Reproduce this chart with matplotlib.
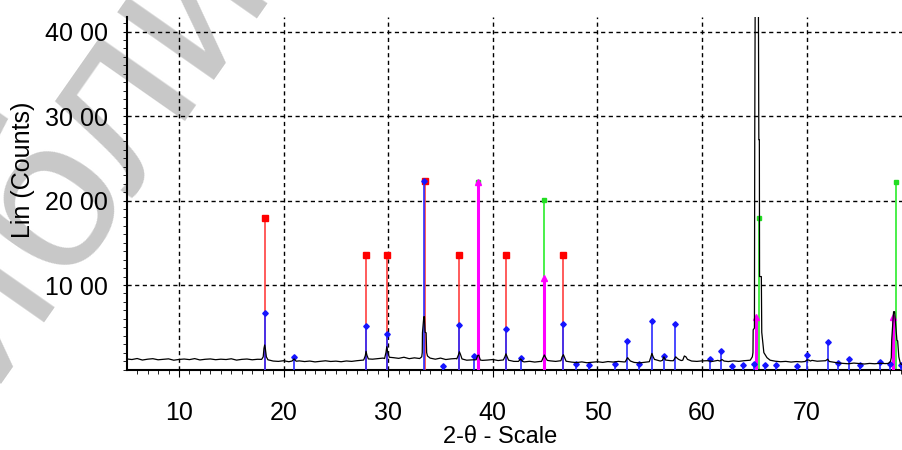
import numpy as np
import matplotlib
matplotlib.use("Agg")
import matplotlib.pyplot as plt
from matplotlib.ticker import MultipleLocator, FixedLocator

plt.rcParams['font.family'] = ['Liberation Sans', 'DejaVu Sans']

# measured scan: background counts on a 0.5 deg grid from 5.0 to 79.0
BG_START, BG_STEP = 5.0, 0.5
bg_counts = [125, 118, 130, 112, 122, 128, 115, 120, 126, 110,
             119, 124, 117, 129, 113, 121, 125, 116, 122, 118,
             127, 111, 120, 124, 115, 121, 118,
             112, 100, 96, 104, 92, 98, 102, 94, 100, 90,
             97, 103, 95, 99, 92, 101, 96, 104, 110,
             118, 122, 128, 135, 150, 140, 132, 145, 128, 138, 130,
             130, 128, 122, 135, 118, 126, 130,
             125, 110, 114, 120, 108, 112, 118, 106, 113,
             110, 96, 104, 90, 97, 88, 95,
             110, 102, 96, 104,
             98, 88, 82, 90, 80, 86, 92,
             84, 94, 88, 96, 90,
             100, 84, 78, 86, 92,
             118, 100, 112, 104, 120, 106, 130, 100, 96, 102,
             104, 96, 108, 100, 94, 102, 96, 104, 110,
             300, 300, 140, 110, 98, 92, 96, 88, 94, 90,
             112, 108, 98, 102, 118,
             88, 78, 72, 68, 76, 70, 65, 72, 68, 74, 70,
             90, 300, 60]

# measured peaks (2theta, counts)
peaks = [
    ([17.9, 18.05, 18.12, 18.19, 18.26, 18.35, 18.5], [120, 150, 250, 290, 240, 150, 115]),
    ([20.8, 21.0, 21.2], [100, 125, 98]),
    ([27.65, 27.8, 27.88, 27.96, 28.1], [112, 160, 215, 170, 125]),
    ([29.65, 29.78, 29.86, 29.94, 30.1], [130, 200, 270, 210, 145]),
    ([33.0, 33.2, 33.25, 33.27, 33.40, 33.46, 33.52, 33.62, 33.67, 33.75, 34.0],
     [130, 150, 200, 435, 625, 625, 440, 435, 200, 160, 135]),
    ([36.55, 36.7, 36.8, 36.9, 37.05], [125, 170, 210, 180, 125]),
    ([38.4, 38.55, 38.65, 38.8], [115, 165, 170, 112]),
    ([41.0, 41.15, 41.25, 41.35, 41.5], [113, 150, 185, 155, 110]),
    ([42.45, 42.65, 42.85], [96, 125, 95]),
    ([44.65, 44.8, 44.92, 45.05, 45.2], [95, 140, 172, 140, 108]),
    ([46.5, 46.62, 46.74, 46.86, 47.0], [104, 150, 175, 140, 98]),
    ([52.65, 52.78, 52.88, 53.0, 53.15], [90, 120, 140, 120, 100]),
    ([54.95, 55.08, 55.2, 55.32, 55.45], [92, 140, 190, 150, 118]),
    ([56.2, 56.35, 56.5], [108, 150, 112]),
    ([57.25, 57.38, 57.48, 57.6, 57.75], [104, 130, 150, 135, 120]),
    ([58.15, 58.3, 58.45, 58.6], [110, 160, 150, 120]),
    ([61.7, 61.9, 62.1], [100, 118, 100]),
    ([64.6, 64.8, 64.86, 64.88, 65.0, 65.03, 65.2, 65.25, 65.42, 65.47, 65.49, 65.66, 65.7, 65.9, 66.2],
     [110, 150, 200, 470, 490, 2720, 9500, 9500, 2720, 2720, 1100, 1100, 440, 200, 140]),
    ([69.85, 70.0, 70.2, 70.35], [95, 112, 112, 100]),
    ([71.8, 72.0, 72.15], [104, 122, 95]),
    ([77.8, 78.0, 78.08, 78.12, 78.3, 78.4, 78.62, 78.69, 78.8, 78.95, 79.2],
     [72, 95, 140, 350, 684, 684, 345, 340, 150, 70, 50]),
]

# reference patterns (stick positions and intensities)
red_pos = [18.19, 27.88, 29.86, 33.50, 36.80, 41.26, 46.74]
red_int = [1795, 1355, 1355, 2230, 1355, 1355, 1355]

blue_pos = [18.19, 21.02, 27.88, 29.86, 33.42, 35.2, 36.78, 38.23, 41.24, 42.67,
            46.72, 47.95, 49.23, 51.68, 52.86, 54.0, 55.19, 56.37, 57.45, 60.8,
            61.85, 62.9, 63.95, 65.0, 66.0, 67.07, 69.1, 70.06, 72.0, 73.03,
            74.05, 75.1, 77.0, 78.0, 79.0]
blue_int = [668, 150, 515, 416, 2230, 45, 527, 160, 475, 140,
            538, 65, 50, 65, 340, 60, 578, 160, 538, 120,
            222, 45, 55, 65, 55, 55, 45, 172, 322, 80,
            120, 50, 92, 60, 55]

magenta_pos = [38.58, 44.90, 65.16, 78.23]
magenta_int = [2222, 1087, 618, 625]

green_pos = [38.62, 44.93, 65.39, 78.55]
green_int = [2222, 2006, 1790, 2222]

y_ticks = [1000, 2000, 3000, 4000]
y_labels = ['10 00', '20 00', '30 00', '40 00']
x_ticks = [10, 20, 30, 40, 50, 60, 70]

# build the scan line
bg_x = BG_START + BG_STEP * np.arange(len(bg_counts))
bg_y = np.array(bg_counts, dtype=float)
keep = np.ones(len(bg_x), dtype=bool)
for px, py in peaks:
    keep &= ~((bg_x >= min(px)) & (bg_x <= max(px)))
scan_x = list(bg_x[keep])
scan_y = list(bg_y[keep])
for px, py in peaks:
    scan_x += px
    scan_y += py
order = np.argsort(scan_x)
scan_x = np.array(scan_x)[order]
scan_y = np.array(scan_y)[order]

fig = plt.figure(figsize=(9.03, 4.5), dpi=100)
ax = fig.add_axes([127 / 903, 1 - 369.5 / 450, 1 - 127 / 903, (369.5 - 17) / 450])
ax.set_zorder(1)
ax.patch.set_visible(False)

ax.set_xlim(5.03, 79.2)
ax.set_ylim(0, 4172)

ax.grid(True, color='black', linestyle=(0, (3, 2.5)), linewidth=1.0, zorder=1)

ax.vlines(green_pos, 0, green_int, color='#3cee3c', lw=1.3, zorder=2)
ax.plot(green_pos, green_int, 's', color='#22dd22', ms=3.5, zorder=2)
ax.vlines(red_pos, 0, red_int, color='#ff4040', lw=1.2, zorder=3)
ax.plot(red_pos, red_int, 's', color='#ff0000', ms=4, zorder=3)
ax.vlines(magenta_pos, 0, magenta_int, color='#ff00ff', lw=2.2, zorder=4)
ax.plot(magenta_pos, magenta_int, '^', color='#ff00ff', ms=4, zorder=4)
ax.vlines(blue_pos, 0, blue_int, color='#2b2bff', lw=1.2, zorder=5)
ax.plot(blue_pos, blue_int, 'D', color='#1515ff', ms=2.8, zorder=5)

ax.plot(scan_x, scan_y, color='black', lw=0.9, zorder=6)

for side in ['top', 'right']:
    ax.spines[side].set_visible(False)
ax.spines['left'].set_linewidth(1.5)
ax.spines['bottom'].set_linewidth(1.5)

ax.yaxis.set_major_locator(FixedLocator(y_ticks))
ax.set_yticklabels(y_labels)
ax.yaxis.set_minor_locator(MultipleLocator(100))
ax.xaxis.set_major_locator(FixedLocator(x_ticks))
ax.xaxis.set_minor_locator(MultipleLocator(1))
ax.tick_params(axis='both', which='major', labelsize=18, color='black')
ax.tick_params(axis='y', which='major', length=3, pad=11)
ax.tick_params(axis='y', which='minor', length=3)
ax.tick_params(axis='x', which='major', length=5, pad=18)
ax.tick_params(axis='x', which='minor', length=3)

fig.text(23 / 903, 1 - 170 / 450, 'Lin (Counts)', rotation=90, fontsize=18,
         ha='center', va='center', zorder=3)
fig.text(500 / 903, 1 - 437 / 450, '2-θ - Scale', fontsize=17,
         ha='center', va='center', zorder=3)

# watermark, drawn behind everything else
fig.text(-0.108, -0.111, 'Библиотека', rotation=55, rotation_mode='anchor',
         fontsize=160, color='#c8c8c8', ha='left', va='baseline', zorder=0)

fig.savefig('out.png', dpi=100)
